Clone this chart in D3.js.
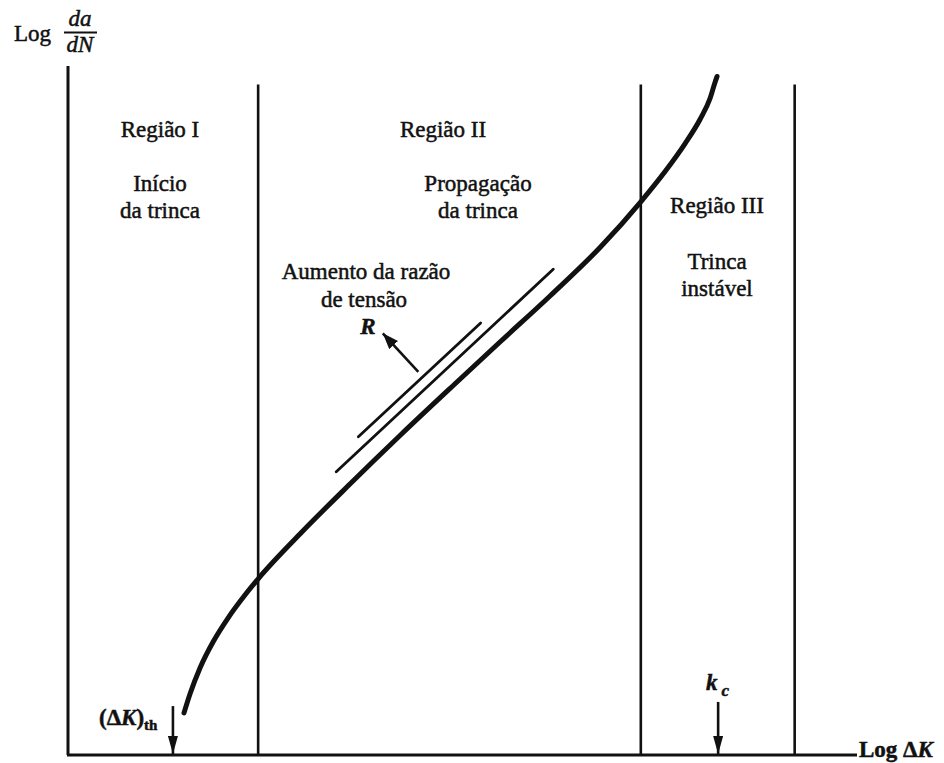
<!DOCTYPE html>
<html>
<head>
<meta charset="utf-8">
<script src="https://cdn.jsdelivr.net/npm/d3@7/dist/d3.min.js"></script>
<style>
  html, body { margin: 0; padding: 0; background: #fff; }
  svg { display: block; }
  text { font-family: "Liberation Serif", "DejaVu Serif", "Times New Roman", serif; fill: #111; }
  .lbl { font-size: 23px; stroke: #111; stroke-width: 0.5px; }
</style>
</head>
<body>
<svg id="chart" width="944" height="763" font-family="Liberation Serif, DejaVu Serif, serif"></svg>
<script>
// Fatigue crack growth curve: log(da/dN) vs log(ΔK), in arbitrary units 0–100
const curveX = [14.70, 15.46, 16.73, 18.38, 20.28, 22.43, 24.08, 29.40, 35.74, 42.08, 49.30, 54.75, 61.09, 67.43, 72.62, 75.67, 78.21, 80.10, 81.37, 82.00, 82.26];
const curveY = [6.10, 8.85, 12.63, 16.40, 19.88, 23.22, 25.54, 32.08, 39.33, 46.37, 54.14, 59.94, 66.62, 73.66, 80.33, 84.69, 88.75, 92.24, 95.28, 97.61, 98.48];

// Region boundaries (log ΔK) and their top
const boundaries = [24.1, 72.6, 92.1];
const boundaryTop = 97.3;

// Curves for increasing stress ratio R (straight segments in region II)
const rLinesX = [[34.0, 61.5], [36.8, 52.3]];
const rLinesY = [[41.1, 70.5], [46.2, 62.7]];

// Threshold and critical ΔK markers
const dkThreshold = 13.3;
const kCritical = 82.4;

// Region titles and descriptions
const regionNames = ["Região I", "Região II", "Região III"];
const regionNotes = [["Início", "da trinca"], ["Propagação", "da trinca"], ["Trinca", "instável"]];

const svg = d3.select("#chart");
const x = d3.scaleLinear().domain([0, 100]).range([68, 857]);
const y = d3.scaleLinear().domain([0, 100]).range([755, 66]);

const defs = svg.append("defs");
defs.append("marker")
  .attr("id", "headDown")
  .attr("viewBox", "0 0 18 10")
  .attr("refX", 18).attr("refY", 5)
  .attr("markerWidth", 18).attr("markerHeight", 10)
  .attr("markerUnits", "userSpaceOnUse")
  .attr("orient", "auto")
  .append("path").attr("d", "M0,0 L18,5 L0,10 Z").attr("fill", "#111");
defs.append("marker")
  .attr("id", "headR")
  .attr("viewBox", "0 0 16 12")
  .attr("refX", 16).attr("refY", 6)
  .attr("markerWidth", 16).attr("markerHeight", 12)
  .attr("markerUnits", "userSpaceOnUse")
  .attr("orient", "auto")
  .append("path").attr("d", "M0,0 L16,6 L0,12 Z").attr("fill", "#111");

// Axes
svg.append("line")
  .attr("x1", x(0)).attr("x2", x(0))
  .attr("y1", y(0)).attr("y2", y(100))
  .attr("stroke", "#111").attr("stroke-width", 3);
svg.append("line")
  .attr("x1", x(0) - 1).attr("x2", x(100))
  .attr("y1", y(0)).attr("y2", y(0))
  .attr("stroke", "#111").attr("stroke-width", 3);

// Region boundaries
svg.selectAll("line.boundary")
  .data(boundaries)
  .join("line")
  .attr("class", "boundary")
  .attr("x1", d => x(d)).attr("x2", d => x(d))
  .attr("y1", y(0)).attr("y2", y(boundaryTop))
  .attr("stroke", "#111").attr("stroke-width", 2.6);

// Main crack growth curve
const pts = curveX.map((v, i) => [v, curveY[i]]);
svg.append("path")
  .datum(pts)
  .attr("d", d3.line().x(d => x(d[0])).y(d => y(d[1])).curve(d3.curveMonotoneX))
  .attr("fill", "none").attr("stroke", "#111")
  .attr("stroke-width", 5).attr("stroke-linecap", "round");

// Higher-R curves
svg.selectAll("line.rline")
  .data(rLinesX.map((xs, i) => ({ xs, ys: rLinesY[i] })))
  .join("line")
  .attr("class", "rline")
  .attr("x1", d => x(d.xs[0])).attr("x2", d => x(d.xs[1]))
  .attr("y1", d => y(d.ys[0])).attr("y2", d => y(d.ys[1]))
  .attr("stroke", "#111").attr("stroke-width", 2.8).attr("stroke-linecap", "round");

// Arrow indicating increasing R
svg.append("line")
  .attr("x1", x(44.4)).attr("y1", y(55.6))
  .attr("x2", x(39.9)).attr("y2", y(61.2))
  .attr("stroke", "#111").attr("stroke-width", 2.6)
  .attr("marker-end", "url(#headR)");

// ΔK threshold and Kc arrows
[dkThreshold, kCritical].forEach((k, i) => {
  svg.append("line")
    .attr("x1", x(k)).attr("x2", x(k))
    .attr("y1", y(i === 0 ? 7.1 : 7.7)).attr("y2", y(0) - 1)
    .attr("stroke", "#111").attr("stroke-width", 2.6)
    .attr("marker-end", "url(#headDown)");
});

// Region labels
const titleX = [160, 443, 717];
const titleY = [137, 137, 213];
const noteY = [[191, 218], [191, 218], [269, 296]];
regionNames.forEach((name, i) => {
  svg.append("text").attr("class", "lbl")
    .attr("x", titleX[i]).attr("y", titleY[i])
    .attr("text-anchor", "middle").text(name);
});
const noteX = [160, 478, 717];
regionNotes.forEach((lines, i) => {
  lines.forEach((t, j) => {
    svg.append("text").attr("class", "lbl")
      .attr("x", noteX[i]).attr("y", noteY[i][j])
      .attr("text-anchor", "middle").text(t);
  });
});

// Stress ratio annotation
svg.append("text").attr("class", "lbl").attr("x", 366).attr("y", 279)
  .attr("text-anchor", "middle").text("Aumento da razão");
svg.append("text").attr("class", "lbl").attr("x", 364).attr("y", 307)
  .attr("text-anchor", "middle").text("de tensão");
svg.append("text").attr("class", "lbl").attr("x", 368).attr("y", 334)
  .attr("text-anchor", "middle").attr("font-style", "italic").attr("font-weight", "bold")
  .attr("stroke-width", 0).text("R");

// Y axis title: Log da/dN
svg.append("text").attr("class", "lbl").attr("x", 14).attr("y", 41).text("Log");
svg.append("text").attr("class", "lbl").attr("x", 80).attr("y", 26)
  .attr("text-anchor", "middle").attr("font-style", "italic").text("da");
svg.append("line").attr("x1", 64).attr("x2", 97).attr("y1", 32.5).attr("y2", 32.5)
  .attr("stroke", "#111").attr("stroke-width", 1.8);
svg.append("text").attr("class", "lbl").attr("x", 80).attr("y", 52)
  .attr("text-anchor", "middle").attr("font-style", "italic").text("dN");

// X axis title: Log ΔK
const xt = svg.append("text").attr("class", "lbl").attr("x", 859).attr("y", 757)
  .attr("font-size", "22px").attr("font-weight", "bold").attr("stroke-width", 0);
xt.append("tspan").text("Log Δ");
xt.append("tspan").attr("font-style", "italic").text("K");

// (ΔK)th label
const th = svg.append("text").attr("class", "lbl").attr("x", 99).attr("y", 725)
  .attr("font-weight", "bold").attr("stroke-width", 0);
th.append("tspan").text("(Δ");
th.append("tspan").attr("font-style", "italic").text("K");
th.append("tspan").text(")");
th.append("tspan").attr("font-size", "15px").attr("dy", 5).text("th");

// kc label
const kc = svg.append("text").attr("class", "lbl").attr("x", 706).attr("y", 690)
  .attr("font-weight", "bold").attr("font-style", "italic").attr("stroke-width", 0);
kc.append("tspan").text("k");
kc.append("tspan").attr("font-size", "17px").attr("dx", 4).attr("dy", 6).text("c");
</script>
</body>
</html>
